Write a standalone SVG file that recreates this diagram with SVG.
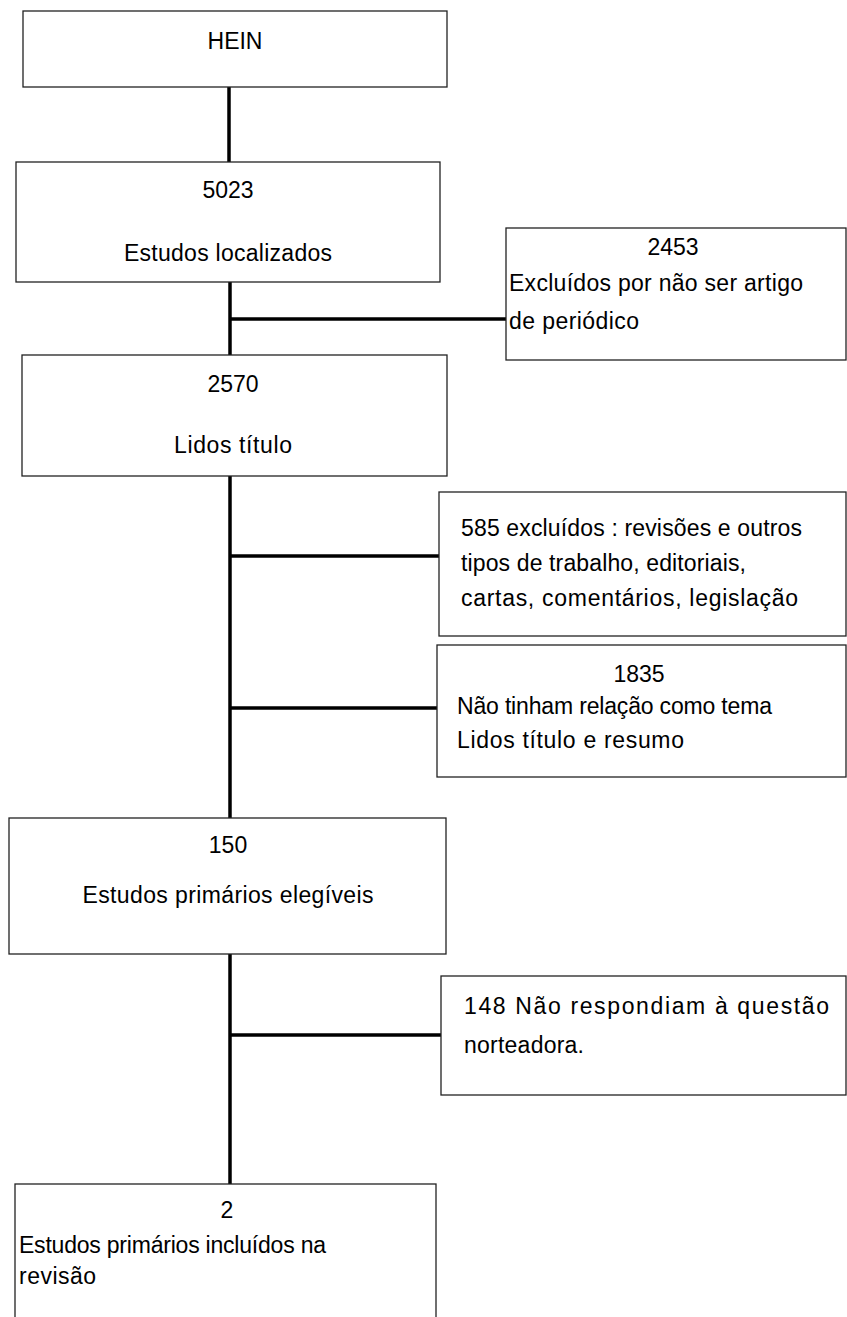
<svg xmlns="http://www.w3.org/2000/svg" width="847" height="1317" viewBox="0 0 847 1317">
<style>
.box{fill:#fff;stroke:#222;stroke-width:1.3}
.t{font-family:"Liberation Sans",Arial,sans-serif;font-size:23px;fill:#000}
.c{text-anchor:middle}
.conn{stroke:#000;stroke-width:3.5;fill:none}
</style>
<rect width="847" height="1317" fill="#fff"/>
<g id="connectors">
<line class="conn" x1="229" y1="87" x2="229" y2="162"/>
<line class="conn" x1="230" y1="282" x2="230" y2="355"/>
<line class="conn" x1="230" y1="319" x2="506" y2="319"/>
<line class="conn" x1="230" y1="476" x2="230" y2="818"/>
<line class="conn" x1="230" y1="556" x2="439" y2="556"/>
<line class="conn" x1="230" y1="708" x2="437" y2="708"/>
<line class="conn" x1="230" y1="954" x2="230" y2="1184"/>
<line class="conn" x1="230" y1="1035" x2="441" y2="1035"/>
</g>
<g id="hein">
<rect class="box" x="23" y="11" width="424" height="76"/>
<text class="t c" x="235" y="49">HEIN</text>
</g>
<g id="localizados">
<rect class="box" x="16" y="162" width="424" height="120"/>
<text class="t c" x="228" y="198">5023</text>
<text class="t c" x="228" y="261" textLength="208">Estudos localizados</text>
</g>
<g id="excluidos2453">
<rect class="box" x="506" y="228" width="340" height="132"/>
<text class="t c" x="673" y="255">2453</text>
<text class="t" x="509" y="291" textLength="294">Excluídos por não ser artigo</text>
<text class="t" x="509" y="329" textLength="130">de periódico</text>
</g>
<g id="lidostitulo">
<rect class="box" x="22" y="355" width="425" height="121"/>
<text class="t c" x="233" y="392">2570</text>
<text class="t c" x="233" y="453" textLength="118">Lidos título</text>
</g>
<g id="excluidos585">
<rect class="box" x="439" y="492" width="407" height="144"/>
<text class="t" x="461" y="536" textLength="341">585 excluídos : revisões e outros</text>
<text class="t" x="461" y="571" textLength="285">tipos de trabalho, editoriais,</text>
<text class="t" x="461" y="606" textLength="337">cartas, comentários,  legislação</text>
</g>
<g id="semrelacao1835">
<rect class="box" x="437" y="645" width="409" height="132"/>
<text class="t c" x="639" y="682">1835</text>
<text class="t" x="457" y="714" textLength="315">Não tinham relação como tema</text>
<text class="t" x="457" y="748" textLength="227">Lidos título e resumo</text>
</g>
<g id="elegiveis">
<rect class="box" x="9" y="818" width="437" height="136"/>
<text class="t c" x="228" y="853">150</text>
<text class="t c" x="228" y="903" textLength="291">Estudos primários elegíveis</text>
</g>
<g id="naorespondiam148">
<rect class="box" x="441" y="976" width="405" height="119"/>
<text class="t" x="464" y="1014" textLength="365">148 Não respondiam à questão</text>
<text class="t" x="464" y="1053" textLength="120">norteadora.</text>
</g>
<g id="incluidos">
<rect class="box" x="15" y="1184" width="421" height="140"/>
<text class="t c" x="227" y="1218">2</text>
<text class="t" x="19" y="1253" textLength="307">Estudos primários incluídos na</text>
<text class="t" x="19" y="1284" textLength="77">revisão</text>
</g>
</svg>
